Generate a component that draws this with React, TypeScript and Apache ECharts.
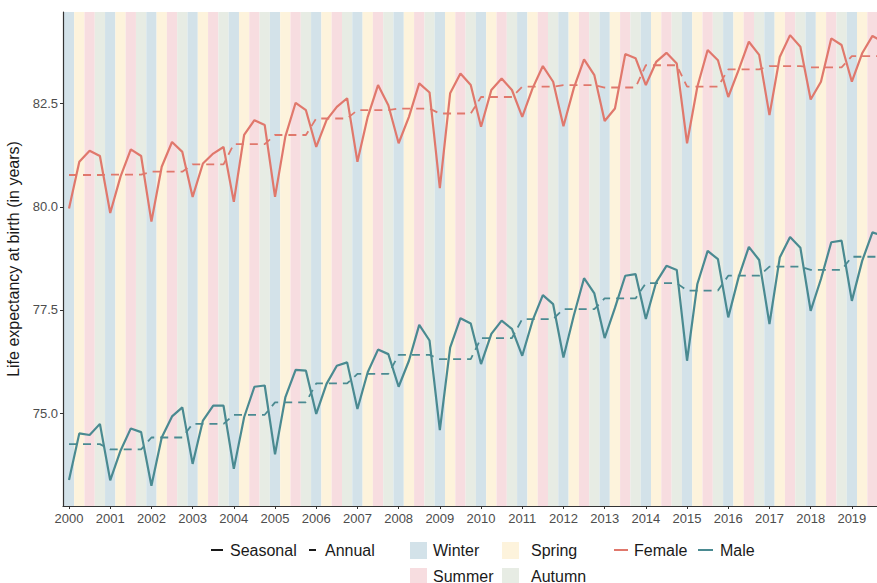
import React, { useEffect, useRef } from "react";
import * as echarts from "echarts";

const years = [2000, 2001, 2002, 2003, 2004, 2005, 2006, 2007, 2008, 2009, 2010, 2011, 2012, 2013, 2014, 2015, 2016, 2017, 2018, 2019];
const seasons = ["Winter", "Spring", "Summer", "Autumn"];
const seasonColors = ["#d3e2e9", "#fdf3dc", "#f7dde0", "#e7ece4"];

const femaleSeasonal = [
  79.96, 81.09, 81.36, 81.23,
  79.85, 80.73, 81.39, 81.23,
  79.64, 80.97, 81.57, 81.33,
  80.24, 81.05, 81.29, 81.45,
  80.12, 81.74, 82.10, 81.98,
  80.24, 81.70, 82.52, 82.34,
  81.45, 82.10, 82.42, 82.63,
  81.09, 82.18, 82.95, 82.46,
  81.54, 82.18, 82.99, 82.77,
  80.45, 82.75, 83.23, 82.95,
  81.94, 82.83, 83.11, 82.83,
  82.18, 82.87, 83.41, 83.03,
  81.95, 82.87, 83.57, 83.19,
  82.08, 82.38, 83.70, 83.60,
  82.95, 83.51, 83.73, 83.47,
  81.54, 82.91, 83.80, 83.55,
  82.66, 83.31, 84.00, 83.68,
  82.22, 83.63, 84.16, 83.88,
  82.60, 83.03, 84.08, 83.92,
  83.03, 83.72, 84.14, 84.00,
];

const maleSeasonal = [
  73.38, 74.51, 74.47, 74.74,
  73.37, 74.09, 74.63, 74.54,
  73.24, 74.41, 74.92, 75.14,
  73.77, 74.82, 75.18, 75.18,
  73.65, 74.90, 75.64, 75.67,
  74.00, 75.38, 76.05, 76.03,
  74.98, 75.71, 76.15, 76.23,
  75.10, 75.99, 76.54, 76.43,
  75.64, 76.27, 77.14, 76.76,
  74.59, 76.59, 77.30, 77.17,
  76.19, 76.92, 77.24, 77.04,
  76.39, 77.24, 77.86, 77.64,
  76.35, 77.36, 78.27, 77.90,
  76.82, 77.55, 78.33, 78.37,
  77.28, 78.17, 78.57, 78.47,
  76.27, 78.13, 78.93, 78.73,
  77.32, 78.29, 79.03, 78.71,
  77.16, 78.77, 79.27, 79.01,
  77.48, 78.25, 79.14, 79.18,
  77.72, 78.69, 79.38, 79.30,
];

const femaleAnnual = [80.77, 80.78, 80.85, 81.03, 81.52, 81.74, 82.14, 82.34, 82.38, 82.26, 82.66, 82.91, 82.95, 82.89, 83.43, 82.91, 83.33, 83.41, 83.38, 83.65];
const maleAnnual = [74.25, 74.12, 74.41, 74.74, 74.96, 75.26, 75.72, 75.95, 76.41, 76.31, 76.82, 77.28, 77.52, 77.78, 78.15, 77.97, 78.33, 78.55, 78.47, 78.79];

const yTicks = [75.0, 77.5, 80.0, 82.5];
const xTicks = years;

const FEMALE = "#e0786c";
const MALE = "#4a8a91";
const FONT = "Liberation Sans, Arial, Helvetica, sans-serif";

const X_MIN = 1999.854;
const X_MAX = 2019.61;
const Y_MIN = 72.75;
const Y_MAX = 84.72;

export default function App() {
  const ref = useRef<HTMLDivElement>(null);
  useEffect(() => {
    if (!ref.current) return;
    const chart = echarts.init(ref.current, null, { renderer: "svg" });

    const times: number[] = [];
    years.forEach((y) => {
      for (let q = 0; q < 4; q++) times.push(y + q / 4);
    });
    const stripes = times.map((t, i) => [t, i % 4]);
    const fS = times.map((t, i) => [t, femaleSeasonal[i]]);
    const mS = times.map((t, i) => [t, maleSeasonal[i]]);
    const fA = times.map((t, i) => [t, femaleAnnual[Math.floor(i / 4)]]);
    const mA = times.map((t, i) => [t, maleAnnual[Math.floor(i / 4)]]);

    const legendText = (x: number, y: number, text: string) => ({
      type: "text",
      x,
      y,
      style: { text, fill: "#1a1a1a", font: `16px ${FONT}`, textVerticalAlign: "middle" },
    });
    const legendRect = (x: number, y: number, color: string) => ({
      type: "rect",
      shape: { x, y: y - 8, width: 17, height: 17 },
      style: { fill: color },
    });
    const legendLine = (x1: number, x2: number, y: number, color: string) => ({
      type: "line",
      shape: { x1, y1: y, x2, y2: y },
      style: { stroke: color, lineWidth: 2 },
    });

    const r1 = 550;
    const r2 = 576;

    chart.setOption({
      animation: false,
      backgroundColor: "#ffffff",
      grid: { left: 63, right: 0, top: 12, bottom: 77, containLabel: false, outerBoundsMode: "none" },
      xAxis: {
        type: "value",
        min: X_MIN,
        max: X_MAX,
        axisLine: { show: true, lineStyle: { color: "#333333", width: 1.2 } },
        axisTick: { show: true, length: 3, lineStyle: { color: "#333333" }, customValues: xTicks },
        axisLabel: {
          customValues: xTicks,
          color: "#4d4d4d",
          fontSize: 13,
          fontFamily: FONT,
          margin: 6,
          formatter: (v: number) => String(Math.round(v)),
        },
        splitLine: { show: false },
      },
      yAxis: {
        type: "value",
        min: Y_MIN,
        max: Y_MAX,
        name: "Life expectancy at birth (in years)",
        nameLocation: "middle",
        nameRotate: 90,
        nameGap: 37,
        nameTextStyle: { color: "#1a1a1a", fontSize: 16, fontFamily: FONT },
        axisLine: { show: true, lineStyle: { color: "#333333", width: 1.2 } },
        axisTick: { show: true, length: 3, lineStyle: { color: "#333333" }, customValues: yTicks },
        axisLabel: {
          customValues: yTicks,
          color: "#4d4d4d",
          fontSize: 13,
          fontFamily: FONT,
          margin: 5,
          formatter: (v: number) => v.toFixed(1),
        },
        splitLine: { show: false },
      },
      series: [
        {
          type: "custom",
          name: "Seasons",
          data: stripes,
          clip: true,
          silent: true,
          z: 0,
          renderItem: (params: any, api: any) => {
            const t = api.value(0);
            const s = api.value(1);
            const p1 = api.coord([t - 0.125, Y_MAX]);
            const p2 = api.coord([t + 0.125, Y_MIN]);
            const cs = params.coordSys;
            const shape = echarts.graphic.clipRectByRect(
              { x: p1[0], y: p1[1], width: p2[0] - p1[0], height: p2[1] - p1[1] },
              { x: cs.x, y: cs.y, width: cs.width, height: cs.height }
            );
            return shape && {
              type: "rect",
              shape,
              style: { fill: seasonColors[s] },
            };
          },
        },
        {
          type: "line",
          name: "Female",
          data: fS,
          showSymbol: false,
          symbol: "none",
          lineStyle: { color: FEMALE, width: 2.2 },
          z: 3,
        },
        {
          type: "line",
          name: "Male",
          data: mS,
          showSymbol: false,
          symbol: "none",
          lineStyle: { color: MALE, width: 2.2 },
          z: 3,
        },
        {
          type: "line",
          name: "Female annual",
          data: fA,
          showSymbol: false,
          symbol: "none",
          lineStyle: { color: FEMALE, width: 1.8, type: [8, 6] },
          z: 2,
        },
        {
          type: "line",
          name: "Male annual",
          data: mA,
          showSymbol: false,
          symbol: "none",
          lineStyle: { color: MALE, width: 1.8, type: [8, 6] },
          z: 2,
        },
      ],
      graphic: [
        legendLine(211, 223, r1, "#1a1a1a"),
        legendText(230, r1, "Seasonal"),
        legendLine(309, 316, r1, "#1a1a1a"),
        legendText(325, r1, "Annual"),
        legendRect(410, r1, seasonColors[0]),
        legendText(433, r1, seasons[0]),
        legendRect(502, r1, seasonColors[1]),
        legendText(531, r1, seasons[1]),
        legendLine(614, 628, r1, FEMALE),
        legendText(634, r1, "Female"),
        legendLine(698, 713, r1, MALE),
        legendText(720, r1, "Male"),
        legendRect(410, r2, seasonColors[2]),
        legendText(433, r2, seasons[2]),
        legendRect(502, r2, seasonColors[3]),
        legendText(531, r2, seasons[3]),
      ],
    });
    return () => chart.dispose();
  }, []);
  return (
    <div
      ref={ref}
      style={{ position: "fixed", left: 0, top: 0, width: 877, height: 583, background: "#fff" }}
    />
  );
}
